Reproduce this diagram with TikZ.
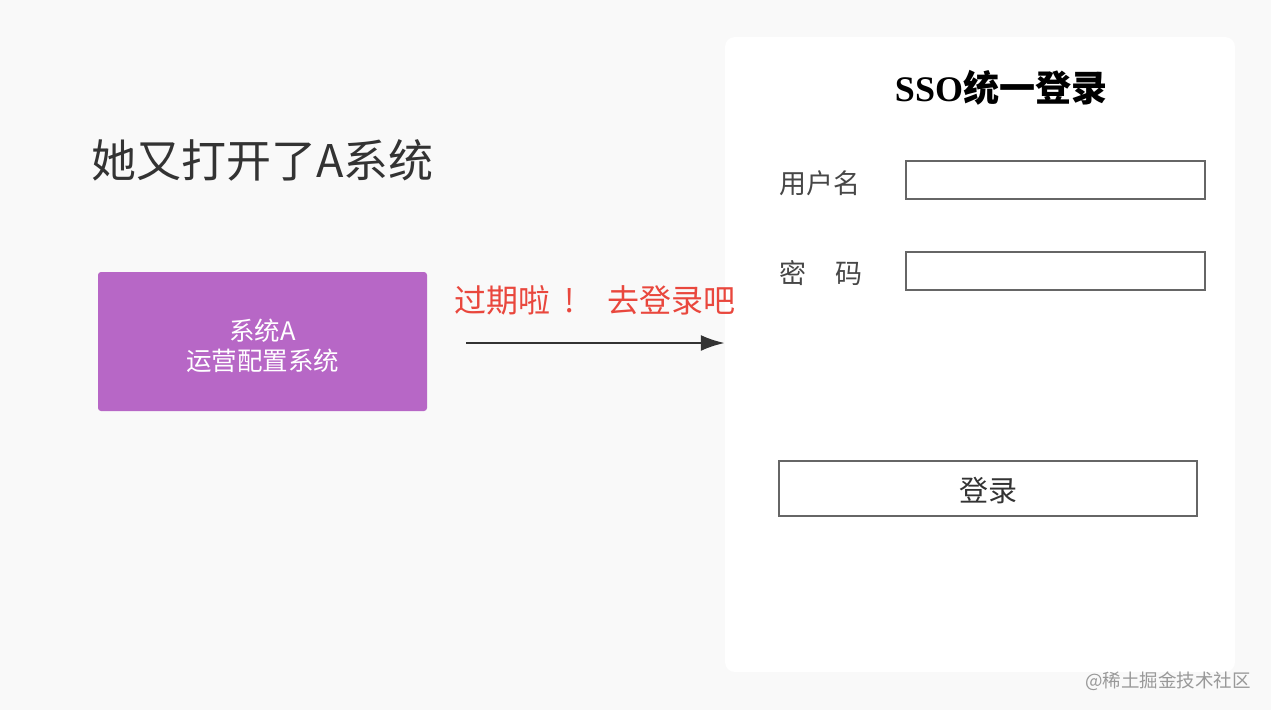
\documentclass[tikz,border=0pt]{standalone}
\usepackage{fontspec}
\usepackage{xcolor}
\setmainfont{Noto Sans CJK SC}
\newfontfamily\cjk{Noto Sans CJK SC}
\newfontfamily\serifbf{Liberation Serif}
\usetikzlibrary{calc,arrows.meta}
\tikzset{>=latex}
\definecolor{pagebg}{HTML}{F9F9F9}
\definecolor{sysfill}{HTML}{B767C6}
\definecolor{warnred}{HTML}{E9473D}
\definecolor{inkgray}{HTML}{333333}
\definecolor{boxline}{HTML}{666666}
\tikzset{
  field/.style={draw=boxline, line width=1.5pt, fill=white, minimum width=299pt, minimum height=38pt, inner sep=0pt},
  label/.style={text=inkgray!90, font=\cjk\fontsize{27}{30}\selectfont, inner sep=0pt}
}

\begin{document}
\begin{tikzpicture}[x=1pt, y=-1pt]
    \fill[pagebg] (0, 0) rectangle (1271, 710);
    \useasboundingbox (0, 0) rectangle (1271, 710);
    % login panel
    \node[fill=white, rounded corners=10pt, minimum width=510pt, minimum height=635pt, inner sep=0pt] (panel) at (980, 354.5) {};
    \node[text=inkgray, font=\cjk\fontsize{45}{50}\selectfont, anchor=west, inner sep=0pt] (headline) at (91, 160) {她又打开了A系统};
    % system A
    \node[fill=sysfill, rounded corners=3pt, minimum width=329pt, minimum height=139pt, inner sep=0pt] (sysA) at (262.5, 341.5) {};
    \node[text=white, align=center, inner sep=0pt, font=\cjk\fontsize{25.5}{30}\selectfont] (sysAtext) at ($(sysA.center) + (0, 4)$) {系统A\\运营配置系统};
    \node[text=warnred, font=\cjk\fontsize{32}{36}\selectfont, anchor=west, inner sep=0pt] (expired) at (454, 300)
      {过期啦\makebox[38pt]{!}\hspace{19pt}去登录吧};
    \coordinate (expstart) at (466, 343);
    \draw[inkgray, line width=2.5pt, -{Latex[length=24pt, width=16pt]}] (expstart) -- (expstart -| panel.west);
    % form
    \node[font=\bfseries\fontsize{36}{40}\selectfont, inner sep=0pt] (ssotitle) at (1001, 88) {{\serifbf SSO}{\cjk 统一登录}};
    \node[label, anchor=west] (userlbl) at (779, 183) {用户名};
    \node[field, anchor=north west] (userbox) at (905, 160) {};
    \node[label, anchor=west] (pwdlbl) at (779, 273) {密\hspace{1.1em}码};
    \node[field, anchor=north west] (pwdbox) at (905, 251) {};
    \node[draw=boxline, line width=1.5pt, fill=white, minimum width=418pt, minimum height=55pt, inner sep=0pt] (loginbtn) at (988, 488.5) {};
    \node[text=inkgray, font=\cjk\fontsize{29}{34}\selectfont, inner sep=0pt] (logintext) at ($(loginbtn.center) + (0, 2)$) {登录};
    \node[text=gray!80, font=\cjk\fontsize{18.5}{22}\selectfont, anchor=east, inner sep=0pt] (mark) at (1251, 681) {@稀土掘金技术社区};
\end{tikzpicture}
\end{document}
